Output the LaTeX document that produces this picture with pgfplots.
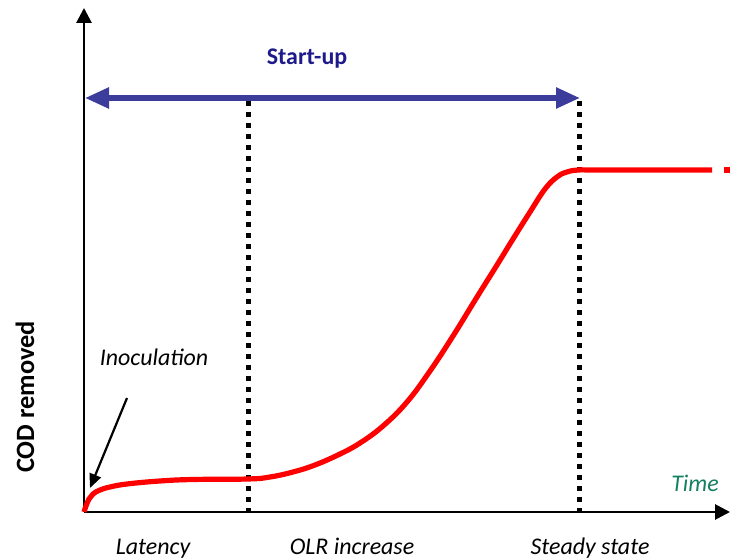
\documentclass[border=0pt]{standalone}
\usepackage{fontspec}
\setmainfont{Carlito}
\usepackage{pgfplots}
\pgfplotsset{compat=1.18}
\usetikzlibrary{arrows.meta}

\definecolor{curvered}{RGB}{255,0,0}
\definecolor{arrowblue}{RGB}{60,60,155}
\definecolor{textblue}{RGB}{30,26,140}
\definecolor{timegreen}{RGB}{20,128,96}

\begin{document}
\begin{tikzpicture}
\begin{axis}[
    width=730bp, height=560bp,
    scale only axis,
    xmin=0, xmax=730,
    ymin=0, ymax=560,
    hide axis,
    clip=false,
]
% axes
\draw[line width=2.8bp, -{Triangle[width=15bp,length=15bp]}] (axis cs:84,48) -- (axis cs:730,48);
\draw[line width=2.8bp, -{Triangle[width=15bp,length=15bp]}] (axis cs:84,48) -- (axis cs:84,552);

% phase boundaries
\addplot[black, line width=5bp, dash pattern=on 5bp off 6bp] coordinates {(248,459) (248,48)};
\addplot[black, line width=5bp, dash pattern=on 5bp off 6bp] coordinates {(579,459) (579,48)};

% start-up span
\draw[arrowblue, line width=5.5bp, {Triangle[width=20bp,length=24bp]}-{Triangle[width=20bp,length=24bp]}]
    (axis cs:85,462) -- (axis cs:580,462);
\node[anchor=base, text=textblue, font=\fontsize{24}{28}\selectfont\bfseries] at (axis cs:307,495) {Start-up};

% COD removed curve
\addplot[curvered, line width=5.2bp, smooth, tension=0.7] coordinates {
(84,48) (86,54) (89,61) (93,66) (100,70) (110,73) (127,76) (160,79)
(193,80.5) (248,81) (270,83) (293,88) (315,95) (340,106) (360,117)
(383,134) (407,158) (430,189) (453,224) (477,263) (497,295) (513,321)
(530,348) (545,371) (557,383) (567,388) (579,390) (600,390) (712,390)
};
\addplot[curvered, line width=5.2bp] coordinates {(724,390) (730,390)};

% inoculation
\draw[line width=2.2bp, -{Triangle[width=12bp,length=14bp]}] (axis cs:127,162) -- (axis cs:90,72);
\node[anchor=base, font=\fontsize{24}{28}\selectfont\itshape] at (axis cs:154,194) {Inoculation};

% labels
\node[anchor=base, rotate=90, font=\fontsize{26.5}{30}\selectfont\bfseries] at (axis cs:34,163) {COD removed};
\node[anchor=base, text=timegreen, font=\fontsize{24}{28}\selectfont\itshape] at (axis cs:695,68) {Time};
\node[anchor=base, font=\fontsize{24}{28}\selectfont\itshape] at (axis cs:153,5) {Latency};
\node[anchor=base, font=\fontsize{24}{28}\selectfont\itshape] at (axis cs:352,5) {OLR increase};
\node[anchor=base, font=\fontsize{24}{28}\selectfont\itshape] at (axis cs:590,5) {Steady state};

\coordinate (bl) at (axis cs:0,0);
\coordinate (tr) at (axis cs:730,560);
\end{axis}
\pgfresetboundingbox
\useasboundingbox (bl) rectangle (tr);
\end{tikzpicture}
\end{document}
